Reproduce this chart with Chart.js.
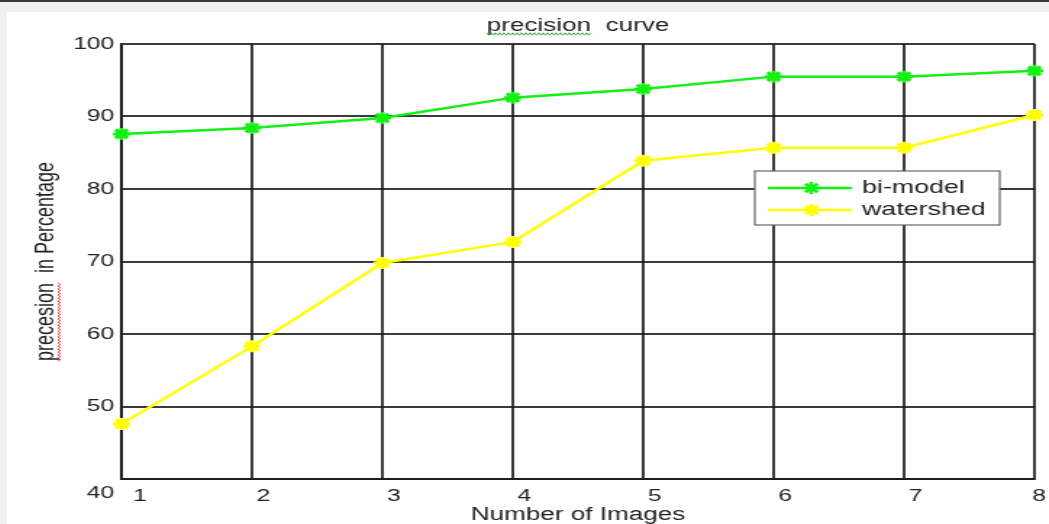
<!DOCTYPE html>
<html>
<head>
<meta charset="utf-8">
<script src="https://cdn.jsdelivr.net/npm/chart.js@4.4.1/dist/chart.umd.min.js"></script>
<style>
    html, body { margin: 0; padding: 0; width: 1049px; height: 524px; overflow: hidden; background: #eff0f2; }
    #lineaSup { position: absolute; left: 0; top: 0; width: 1049px; height: 2px; background: #3a3a3a; }
    #panel { position: absolute; left: 7px; top: 12px; width: 1042px; height: 512px; background: #fff; overflow: hidden; }
    /* la figura original viene estirada en horizontal, asi que se escala el canvas */
    #estirado { position: absolute; left: 0; top: 0; width: 719px; height: 512px; transform: scaleX(1.4492); transform-origin: 0 0; }
</style>
</head>
<body>
<div id="lineaSup"></div>
<div id="panel"><div id="estirado"><canvas id="precisionChart" width="719" height="512"></canvas></div></div>
<script>
const imagenes   = ['1', '2', '3', '4', '5', '6', '7', '8'];
const biModel    = [87.6, 88.4, 89.8, 92.6, 93.8, 95.5, 95.5, 96.3];
const watershed  = [47.6, 58.3, 69.8, 72.7, 83.9, 85.7, 85.7, 90.2];
const ejeYMin    = 40;
const ejeYMax    = 100;
const ejeYPaso   = 10;

const colorBi  = '#14f014';
const colorWat = '#ffff00';
const colorTxt = '#222';

// linea ondulada tipo corrector ortografico
function ondulada(ctx, x0, y0, largo, vertical, color) {
    ctx.beginPath();
    ctx.strokeStyle = color;
    ctx.lineWidth = 0.9;
    let k = 0;
    for (let i = 0; i <= largo; i += 1.5, k++) {
        const d = (k % 2) ? 1.2 : -1.2;
        if (vertical) ctx.lineTo(x0 + d * 0.7, y0 - i);
        else ctx.lineTo(x0 + i, y0 + d);
    }
    ctx.stroke();
}

const extras = {
    id: 'extras',
    afterDraw(chart) {
        const { ctx, chartArea, scales } = chart;
        ctx.save();

        // etiqueta 40 (en el original va mas abajo que el eje)
        ctx.font = '17px Arial';
        ctx.fillStyle = colorTxt;
        ctx.textAlign = 'right';
        ctx.textBaseline = 'middle';
        ctx.fillText(String(ejeYMin), chartArea.left - 5, scales.y.getPixelForValue(ejeYMin) + 14);

        // subrayado del titulo
        ctx.font = '18px Arial';
        const tTitulo = chart.options.plugins.title.text;
        const cx = (chartArea.left + chartArea.right) / 2;
        const x0 = cx - ctx.measureText(tTitulo).width / 2;
        ondulada(ctx, x0, 22, ctx.measureText('precision').width, false, '#3c9c3c');

        // subrayado del titulo del eje y
        const tY = scales.y.options.title.text;
        const medio = (chartArea.top + chartArea.bottom) / 2;
        const inicio = medio + ctx.measureText(tY).width / 2;
        ondulada(ctx, 36, inicio, ctx.measureText('precesion').width, true, '#e02020');

        // leyenda
        const bx = chartArea.right - 193, by = chartArea.top + 127, bw = 169, bh = 54;
        ctx.fillStyle = '#fff';
        ctx.fillRect(bx, by, bw, bh);
        ctx.strokeStyle = '#666';
        ctx.lineWidth = 1.2;
        ctx.strokeRect(bx, by, bw, bh);
        chart.data.datasets.forEach((ds, i) => {
            const fy = by + 17 + i * 22;
            ctx.beginPath();
            ctx.strokeStyle = ds.borderColor;
            ctx.lineWidth = ds.borderWidth;
            ctx.moveTo(bx + 9, fy);
            ctx.lineTo(bx + 67, fy);
            ctx.stroke();
            if (Chart.helpers && Chart.helpers.drawPoint) {
                ctx.fillStyle = ds.borderColor;
                Chart.helpers.drawPoint(ctx, { pointStyle: 'star', radius: 6, borderWidth: 3, rotation: 0 }, bx + 39, fy);
            }
            ctx.fillStyle = colorTxt;
            ctx.textAlign = 'left';
            ctx.font = '18.5px Arial';
            ctx.fillText(ds.label, bx + 74, fy);
        });

        ctx.restore();
    }
};

const ctx = document.getElementById('precisionChart').getContext('2d');
const grafica = new Chart(ctx, {
    type: 'line',
    data: {
        labels: imagenes,
        datasets: [
            {
                label: 'bi-model',
                data: biModel,
                borderColor: colorBi,
                backgroundColor: colorBi,
                borderWidth: 2.5,
                pointStyle: 'star',
                pointRadius: 6,
                pointBorderWidth: 3,
                tension: 0,
                clip: false
            },
            {
                label: 'watershed',
                data: watershed,
                borderColor: colorWat,
                backgroundColor: colorWat,
                borderWidth: 2.5,
                pointStyle: 'star',
                pointRadius: 6,
                pointBorderWidth: 3,
                tension: 0,
                clip: false
            }
        ]
    },
    options: {
        responsive: false,
        animation: false,
        devicePixelRatio: 1,
        layout: { padding: { top: 0, right: 10, left: 0, bottom: 0 } },
        plugins: {
            legend: { display: false },
            tooltip: { enabled: false },
            title: {
                display: true,
                text: 'precision  curve',
                fullSize: false,
                color: colorTxt,
                font: { family: 'Arial', size: 18, weight: 'normal', lineHeight: 1 },
                padding: { top: 5, bottom: 9 }
            }
        },
        scales: {
            x: {
                offset: false,
                afterFit: s => { s.height = 45; },
                grid: { color: 'rgba(25,25,25,0.85)', lineWidth: 2, drawTicks: false },
                border: { color: 'rgba(25,25,25,0.85)', width: 2 },
                ticks: {
                    color: colorTxt,
                    font: { family: 'Arial', size: 17 },
                    padding: 7,
                    align: 'inner',
                    labelOffset: 8,
                    maxRotation: 0
                },
                title: {
                    display: true,
                    text: 'Number of Images',
                    color: colorTxt,
                    font: { family: 'Arial', size: 18, lineHeight: 1 },
                    padding: { top: 0, bottom: 0 }
                }
            },
            y: {
                min: ejeYMin,
                max: ejeYMax,
                afterFit: s => { s.width = 79; },
                grid: { color: 'rgba(25,25,25,0.85)', lineWidth: 2, drawTicks: false },
                border: { color: 'rgba(25,25,25,0.85)', width: 2 },
                ticks: {
                    stepSize: ejeYPaso,
                    color: colorTxt,
                    font: { family: 'Arial', size: 17 },
                    padding: 5,
                    callback: v => (v === ejeYMin ? '' : v)
                },
                title: {
                    display: true,
                    text: 'precesion  in Percentage',
                    color: colorTxt,
                    font: { family: 'Arial', size: 18, lineHeight: 1 },
                    padding: { top: 18, bottom: 0 }
                }
            }
        }
    },
    plugins: [extras]
});
</script>
</body>
</html>
